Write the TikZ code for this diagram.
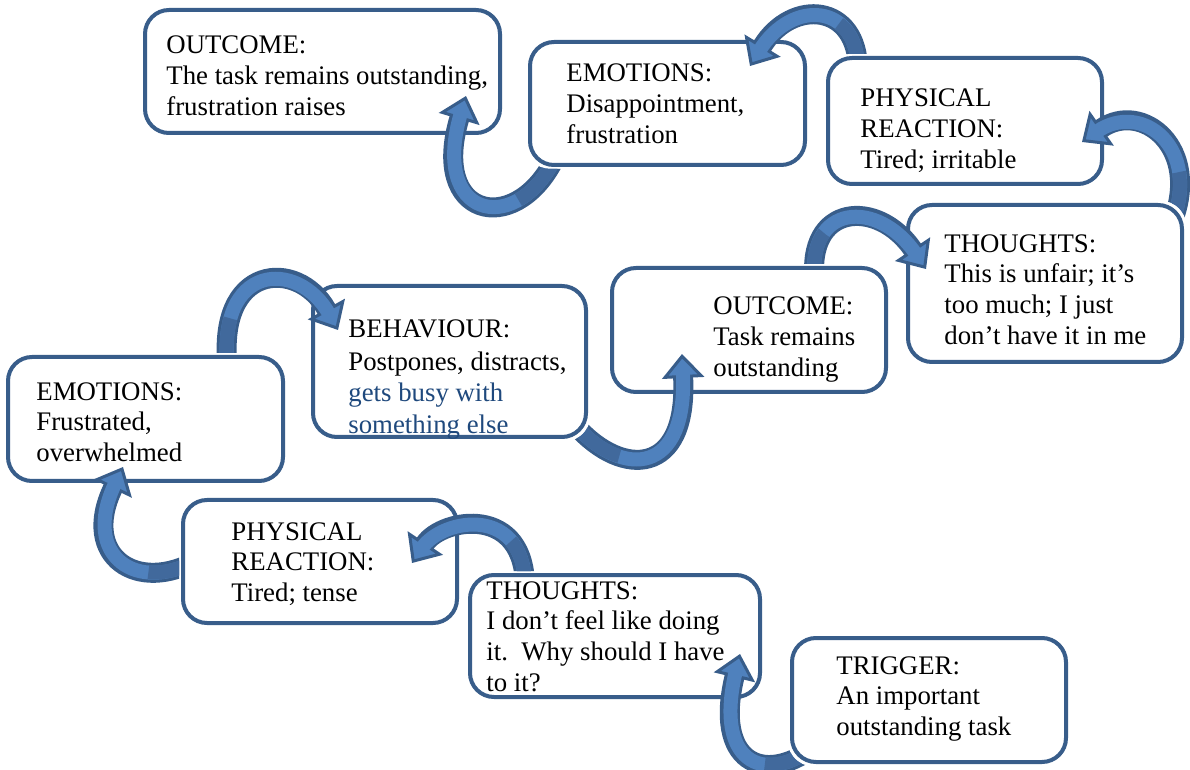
\documentclass[tikz,border=0pt]{standalone}
\usepackage{fontspec}
\setmainfont{Liberation Serif}
\usetikzlibrary{calc,arrows.meta}

\definecolor{boxline}{HTML}{385D8A}
\definecolor{arrowfill}{HTML}{4F81BD}
\definecolor{arrowline}{HTML}{385D8A}
\definecolor{arrowdark}{HTML}{41699C}
\definecolor{textblue}{HTML}{1F497D}

\tikzset{
  box/.style={draw=boxline, fill=white, line width=2pt, rounded corners=12pt, inner sep=0pt},
  txt/.style={anchor=base west, align=left, inner sep=0pt, font=\fontsize{13.4pt}{15.4pt}\selectfont},
  bandout/.style={draw=arrowline, line width=10pt, -{Triangle[length=12pt, width=21pt, fill=arrowfill, color=arrowline, line width'=1.5pt]}},
  bandin/.style={draw=arrowfill, line width=7pt, shorten >=9pt},
  bandback/.style={draw=arrowdark, line width=7pt, dash pattern=on 26pt off 1000pt}
}

% #1 source box, #2 tail, #3 and #4 controls, #5 tip
\newcommand{\bentarrow}[5]{%
  \begin{scope}[even odd rule]
    \clip (0,770) rectangle (1190,0)
      ($(#1.north west)+(-2,-2)$) [rounded corners=12pt] rectangle ($(#1.south east)+(2,2)$);
    \draw[bandout] #2 .. controls #3 and #4 .. #5;
    \draw[bandin] #2 .. controls #3 and #4 .. #5;
    \draw[bandback] #2 .. controls #3 and #4 .. #5;
  \end{scope}}

\begin{document}
\begin{tikzpicture}[x=0.5pt, y=-0.5pt]
	\useasboundingbox (0,0) rectangle (1190,770);
	
	%boxes
	\node[box, minimum width=177.5pt, minimum height=61.5pt] (out1) at (322.5,71.5) {};
	\node[box, minimum width=137.5pt, minimum height=61.5pt] (emo1) at (667.5,103.5) {};
	\node[box, minimum width=137pt, minimum height=63pt] (phy1) at (965,121) {};
	\node[box, minimum width=137pt, minimum height=78.5pt] (tho1) at (1045,283.5) {};
	\node[box, minimum width=137pt, minimum height=62pt] (out2) at (749,330) {};
	\node[box, minimum width=136.5pt, minimum height=75.5pt] (beh) at (449.5,361.5) {};
	\node[box, minimum width=137.5pt, minimum height=62pt] (emo2) at (145.5,419) {};
	\node[box, minimum width=137pt, minimum height=61.5pt] (phy2) at (320,561.5) {};
	\node[box, minimum width=145pt, minimum height=61pt] (tho2) at (615,636) {};
	\node[box, minimum width=137pt, minimum height=62pt] (trig) at (929,700) {};
	
	%arrows, each one tucked under the box it leaves
	\bentarrow{trig}{($(trig.west)+(23,48)$)}{+(-50,37)}{+(-26,108)}{($(tho2.south east)+(-22,-45)$)}
	\bentarrow{tho2}{($(tho2.north)+(-90,17)$)}{+(2,-87)}{+(30,-45)}{($(phy2.north east)+(-47,65)$)}
	\bentarrow{phy2}{($(phy2.west)+(17,-2)$)}{+(-60,35)}{+(-43,90)}{($(emo2.south)+(-22.5,-16)$)}
	\bentarrow{emo2}{($(emo2.north)+(82.5,15)$)}{+(-13,-107)}{+(-40,-72)}{($(beh.north west)+(27,46)$)}
	\bentarrow{beh}{($(beh.south east)+(-11,-12)$)}{+(45,50)}{+(6,123)}{($(out2.south west)+(72,-40)$)}
	\bentarrow{out2}{($(out2.north)+(66,17)$)}{+(-10,-80)}{+(-48,-71)}{($(tho1.north west)+(20,66)$)}
	\bentarrow{tho1}{($(tho1.north east)+(-12,20)$)}{+(30,-75)}{+(60,-42)}{($(phy1.east)+(-22,21)$)}
	\bentarrow{phy1}{($(phy1.north west)+(32,14)$)}{+(0,-67)}{+(42,-68)}{($(emo1.north east)+(-57,26)$)}
	\bentarrow{emo1}{($(emo1.south west)+(25,-5)$)}{+(-40,75)}{+(-36,121)}{($(out1.south east)+(-36,-39)$)}
	
	%texts (placed by the baseline of their last line)
	\node[txt] (out1-t) at ($(out1.north west)+(23,107.6)$) {OUTCOME:\\The task remains outstanding,\\frustration raises};
	\node[txt] (emo1-t) at ($(emo1.north west)+(38,103.6)$) {EMOTIONS:\\Disappointment,\\frustration};
	\node[txt] (phy1-t) at ($(phy1.north west)+(34,112.6)$) {PHYSICAL\\REACTION:\\Tired; irritable};
	\node[txt] (tho1-t) at ($(tho1.north west)+(38,141.4)$) {THOUGHTS:\\This is unfair; it’s\\too much; I just\\don’t have it in me};
	\node[txt] (out2-t) at ($(out2.north west)+(103,110.6)$) {OUTCOME:\\Task remains\\outstanding};
	\node[txt, font=\fontsize{13.4pt}{16pt}\selectfont] (beh-t) at ($(beh.north west)+(37,150)$) {BEHAVIOUR:\\Postpones, distracts,\\\textcolor{textblue}{gets busy with}\\\textcolor{textblue}{something else}};
	\node[txt] (emo2-t) at ($(emo2.north west)+(30,106.6)$) {EMOTIONS:\\Frustrated,\\overwhelmed};
	\node[txt] (phy2-t) at ($(phy2.north west)+(50,103.6)$) {PHYSICAL\\REACTION:\\Tired; tense};
	\node[txt] (tho2-t) at ($(tho2.north west)+(18,118.4)$) {THOUGHTS:\\I don’t feel like doing\\it.\ \ Why should I have\\to it?};
	\node[txt] (trig-t) at ($(trig.north west)+(46,99.6)$) {TRIGGER:\\An important\\outstanding task};
\end{tikzpicture}
\end{document}
